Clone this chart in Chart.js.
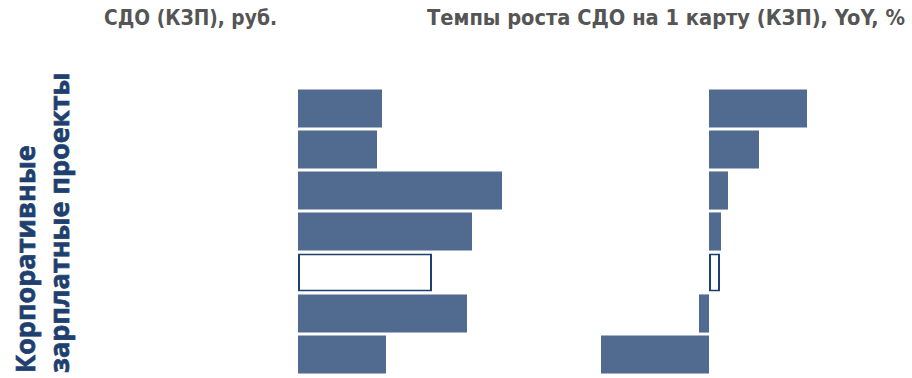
<!DOCTYPE html>
<html lang="ru">
<head>
<meta charset="utf-8">
<title>СДО (КЗП)</title>
<script src="https://cdn.jsdelivr.net/npm/chart.js@4/dist/chart.umd.min.js"></script>
<style>
  html, body { margin: 0; padding: 0; background: #ffffff; }
  body { width: 912px; height: 378px; position: relative; overflow: hidden; }
  .title {
    position: absolute; top: 6px; white-space: nowrap;
    font-family: "DejaVu Sans", sans-serif; font-weight: bold; font-size: 21px;
    color: #555555; transform-origin: 0 0;
  }
  .side {
    position: absolute; left: 0; top: 0; white-space: nowrap;
    font-family: "Open Sans", sans-serif; font-weight: 700; font-size: 27px;
    line-height: 34px; color: #1f3f6e;
    -webkit-text-stroke: 0.7px #1f3f6e;
    transform-origin: 0 0;
  }
  .box { position: absolute; }
  canvas { display: block; }
</style>
</head>
<body>
<div class="title" id="t1">СДО (КЗП), руб.</div>
<div class="title" id="t2">Темпы роста СДО на 1 карту (КЗП), YoY, %</div>
<div class="side" id="side">Корпоративные<br>зарплатные проекты</div>

<div class="box" style="left:298px; top:88px;"><canvas id="c1" width="260" height="287"></canvas></div>
<div class="box" style="left:599px; top:88px;"><canvas id="c2" width="220" height="287"></canvas></div>

<script>
// Banks in the corporate payroll segment; index 4 is the highlighted one
const categories = ['Банк 1', 'Банк 2', 'Банк 3', 'Банк 4', 'Банк 5', 'Банк 6', 'Банк 7'];
// Average daily balance per payroll card, rubles
const balanceRub = [8400, 7900, 20400, 17400, 13400, 16900, 8800];
// Year-over-year growth of the balance per card, %
const growthYoY = [9.8, 5.0, 1.9, 1.2, 1.1, -1.0, -10.8];
const highlightIndex = 4;

const FILL = '#506b8f';
const EDGE = '#1f3f6e';

// Fit the heading texts into their column widths
function fitTitle(id, left, width) {
  const el = document.getElementById(id);
  const w = el.getBoundingClientRect().width;
  el.style.left = left + 'px';
  el.style.transform = 'scaleX(' + (width / w) + ')';
}
fitTitle('t1', 104, 173);
fitTitle('t2', 427, 478);

// Vertical segment caption, reading bottom to top
(function () {
  const el = document.getElementById('side');
  el.style.transform = 'translate(8px, 373px) rotate(-90deg)';
})();

function barStyles(n) {
  return {
    backgroundColor: categories.map((_, i) => i === n ? '#ffffff' : FILL),
    borderColor: categories.map((_, i) => i === n ? EDGE : FILL),
    borderWidth: categories.map((_, i) => i === n ? 2 : 0),
  };
}

function makeChart(id, values, min, max) {
  return new Chart(document.getElementById(id), {
    type: 'bar',
    data: {
      labels: categories,
      datasets: [Object.assign({
        data: values,
        borderSkipped: false,
        barPercentage: 0.93,
        categoryPercentage: 1.0,
      }, barStyles(highlightIndex))]
    },
    options: {
      indexAxis: 'y',
      responsive: false,
      devicePixelRatio: 1,
      animation: false,
      layout: { padding: 0 },
      plugins: { legend: { display: false }, tooltip: { enabled: false }, title: { display: false } },
      scales: {
        x: { display: false, min: min, max: max, grid: { display: false } },
        y: { display: false, grid: { display: false } }
      }
    }
  });
}

makeChart('c1', balanceRub, 0, 26000);
makeChart('c2', growthYoY, -11, 11);
</script>
</body>
</html>
